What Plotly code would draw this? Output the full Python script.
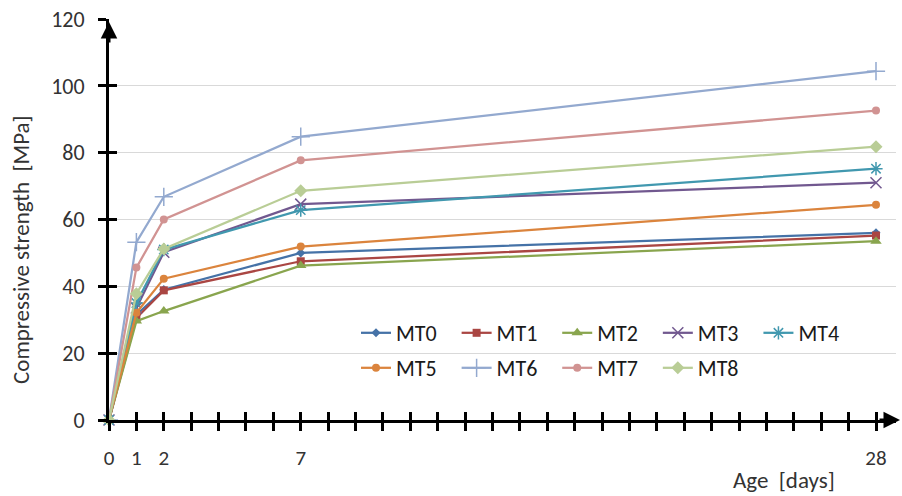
import plotly.graph_objects as go

days = [0, 1, 2, 7, 28]
series_names = ["MT0", "MT1", "MT2", "MT3", "MT4", "MT5", "MT6", "MT7", "MT8"]
MT0 = [0, 31.5, 39.0, 50.0, 56.0]
MT1 = [0, 30.5, 38.8, 47.5, 55.2]
MT2 = [0, 29.6, 32.6, 46.2, 53.5]
MT3 = [0, 33.5, 50.2, 64.6, 71.0]
MT4 = [0, 35.0, 51.0, 62.8, 75.2]
MT5 = [0, 32.1, 42.3, 51.9, 64.4]
MT6 = [0, 53.2, 66.8, 84.8, 104.4]
MT7 = [0, 45.6, 60.0, 77.7, 92.6]
MT8 = [0, 37.8, 51.2, 68.6, 81.8]
values = [MT0, MT1, MT2, MT3, MT4, MT5, MT6, MT7, MT8]

x_tick_vals = list(range(0, 29))
x_tick_labels = ["0", "1", "2", "", "", "", "", "7"] + [""] * 20 + ["28"]
y_tick_vals = [0, 20, 40, 60, 80, 100, 120]

colors = ["#4572A7", "#AA4643", "#89A54E", "#71588F", "#4198AF",
          "#DB843D", "#93A9CF", "#D19392", "#B9CD96"]
symbols = ["diamond", "square", "triangle-up", "x-thin-open", "asterisk-open",
           "circle", "cross-thin-open", "circle", "diamond"]
sizes = [7, 8, 10, 11, 11, 8, 13, 8, 10]
legend_ids = ["legend"] * 5 + ["legend2"] * 4

FONT = "Carlito, Lato, sans-serif"
TXT = "#333333"
PAD = "\u00a0" * 3

fig = go.Figure()
for name, vals, c, s, sz, lg in zip(series_names, values, colors, symbols, sizes, legend_ids):
    thin = s.endswith("-open")
    fig.add_trace(go.Scatter(
        x=days, y=vals, name=name + PAD, mode="lines+markers",
        line=dict(color=c, width=2.25),
        marker=dict(symbol=s, size=sz, color=c,
                    line=dict(color=c, width=1.5 if thin else 0)),
        cliponaxis=False, legend=lg,
    ))

# overlay axes for the inner half of the crossing tick marks
fig.add_trace(go.Scatter(x=[None], y=[None], xaxis="x2", yaxis="y2",
                         showlegend=False, hoverinfo="skip"))

L, R, T, B = 109, 6, 19, 76
W, H = 902, 496
plot_w = W - L - R
plot_h = H - T - B
px_per_day = (876 - 109) / 28.0
x_max = plot_w / px_per_day

legend_common = dict(orientation="h", xanchor="left", yanchor="middle",
                     bgcolor="rgba(0,0,0,0)", borderwidth=0,
                     font=dict(family=FONT, size=22, color="#1a1a1a"))

fig.update_layout(
    width=W, height=H,
    margin=dict(l=L, r=R, t=T, b=B, autoexpand=False),
    paper_bgcolor="white", plot_bgcolor="white",
    font=dict(family=FONT, size=22, color=TXT),
    showlegend=True,
    legend=dict(x=(356 - L) / plot_w, y=(420 - 333) / plot_h, **legend_common),
    legend2=dict(x=(356 - L) / plot_w, y=(420 - 368) / plot_h, **legend_common),
    xaxis=dict(range=[0, x_max], tickmode="array", tickvals=x_tick_vals,
               ticktext=x_tick_labels, ticks="outside", ticklen=8, tickwidth=2.5,
               tickcolor="black", showline=True, linecolor="black", linewidth=3,
               showgrid=False, zeroline=False, ticklabelstandoff=9,
               tickfont=dict(family=FONT, size=21, color=TXT)),
    yaxis=dict(range=[0, 120], tickmode="array", tickvals=y_tick_vals,
               ticks="outside", ticklen=8, tickwidth=2.5, tickcolor="black",
               showline=True, linecolor="black", linewidth=3,
               showgrid=True, gridcolor="#D9D9D9", gridwidth=1.2, zeroline=False,
               ticklabelstandoff=9,
               tickfont=dict(family=FONT, size=22, color=TXT)),
    xaxis2=dict(overlaying="x", anchor="y2", range=[0, x_max], tickmode="array",
                tickvals=x_tick_vals, ticks="inside", ticklen=8, tickwidth=2.5,
                tickcolor="black", showticklabels=False, showgrid=False,
                zeroline=False, showline=False),
    yaxis2=dict(overlaying="y", anchor="x2", range=[0, 120], tickmode="array",
                tickvals=y_tick_vals, ticks="inside", ticklen=8, tickwidth=2.5,
                tickcolor="black", showticklabels=False, showgrid=False,
                zeroline=False, showline=False),
    annotations=[
        dict(text="Compressive strength  [MPa]", xref="paper", yref="paper",
             x=(21 - L) / plot_w, y=(420 - 250) / plot_h, textangle=-90,
             showarrow=False, xanchor="center", yanchor="middle",
             font=dict(family=FONT, size=23, color=TXT)),
        dict(text="Age  [days]", xref="paper", yref="paper",
             x=(784 - L) / plot_w, y=(420 - 480) / plot_h,
             showarrow=False, xanchor="center", yanchor="middle",
             font=dict(family=FONT, size=23, color=TXT)),
        # axis arrowheads
        dict(xref="paper", yref="paper", x=0, y=(420 - 22) / plot_h,
             ax=0, ay=22, showarrow=True, arrowhead=2, arrowsize=1.1,
             arrowwidth=3, arrowcolor="black", text=""),
        dict(xref="paper", yref="paper", x=(900 - L) / plot_w, y=0,
             ax=-22, ay=0, showarrow=True, arrowhead=2, arrowsize=1.1,
             arrowwidth=3, arrowcolor="black", text=""),
    ],
)

fig.write_html("out.html",
               config={"displayModeBar": False},
               post_script="document.body.style.margin='0';"
                           "document.body.style.overflow='hidden';")
